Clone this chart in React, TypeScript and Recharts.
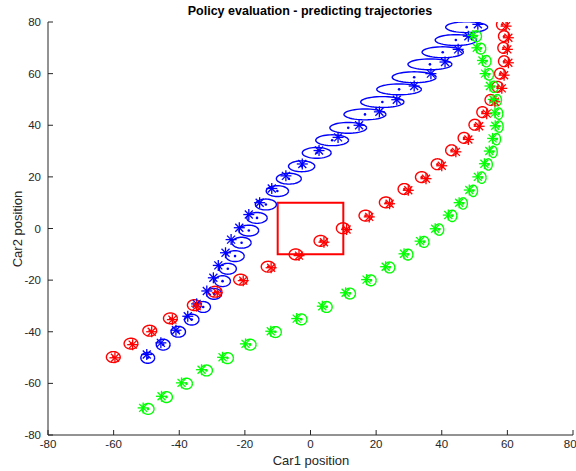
import React from 'react'
import { ComposedChart, Scatter, XAxis, YAxis, ReferenceArea } from 'recharts'

const axisTicks = [-80, -60, -40, -20, 0, 20, 40, 60, 80]

// observed positions (asterisks)
const blueStarX = [-49.9, -45.6, -41, -37.4, -34.7, -31.6, -29.6, -28.1, -25.9, -24.2, -21.7, -18.8, -15.5, -11.8, -7.5, -2.5, 2.6, 8.4, 14.8, 21, 26.3, 31.6, 36.7, 41, 45, 48.1, 51]
const blueStarY = [-48.8, -44.3, -39.4, -34, -29.2, -24.2, -19.1, -14.3, -9.4, -4.3, 0.3, 5.4, 10, 15.5, 20.4, 25, 30.2, 35.3, 40, 45.2, 49.9, 55.2, 60, 64.5, 69.4, 74.5, 79.1]
// predicted means (dots) and spread (ellipses)
const blueMeanX = [-49.6, -44.9, -40.3, -36.2, -32.7, -29.4, -26.8, -25.2, -23, -21, -18.8, -16.3, -13.6, -10.1, -6.6, -2.7, 1.9, 6.6, 11.5, 16.6, 21.9, 27, 31.6, 36.4, 40.3, 44.3, 47.6]
const blueMeanY = [-50.1, -45, -40, -35.3, -30.4, -25.3, -20.4, -15.6, -10.7, -5.5, -0.8, 4.1, 9.3, 14.5, 19.3, 24.1, 29.3, 34.2, 39, 44.2, 49, 53.9, 58.6, 63.6, 68.3, 73, 78]
const blueSdX = [2.1, 2.1, 2.2, 2.2, 2.2, 2.3, 2.4, 2.6, 2.8, 2.9, 3, 3.1, 3.2, 3.4, 3.8, 4, 4.4, 5, 5.6, 6.4, 6.6, 6.8, 6.7, 6.7, 6.3, 6.3, 6.4]
const blueSdY = [2.1, 2.1, 2.1, 2.1, 2.1, 2.1, 2.1, 2.1, 2.1, 2.1, 2.1, 2.1, 2.1, 2.1, 2.1, 2.1, 2.1, 2.1, 2.1, 2.1, 2.1, 2.1, 2.1, 2.1, 2.1, 2.1, 2.1]

const redStarX = [-59.6, -54.2, -48.4, -42.1, -34.7, -28.4, -20.5, -12, -3.5, 4.1, 11, 17.9, 24.1, 29.8, 35.2, 40, 44.3, 48.1, 51.4, 53.7, 56.2, 58.3, 59, 60.3, 60, 60.3, 59.6]
const redStarY = [-50.1, -45, -40, -35.3, -30.1, -24.9, -20.2, -15.2, -10.5, -5.3, -0.4, 4.5, 9.6, 14.8, 19.3, 24.3, 29.7, 34.5, 39.6, 44.5, 49.1, 54.3, 59.4, 64.2, 69.4, 73.9, 78.4]
const redMeanX = [-60.1, -54.7, -49, -42.7, -35.4, -29.1, -21.3, -12.9, -4.5, 3.1, 9.9, 16.8, 23, 28.6, 33.9, 38.7, 43, 46.8, 50.1, 52.4, 54.9, 57, 57.8, 59, 58.8, 59, 58.4]
const redMeanY = [-49.8, -44.6, -39.6, -34.8, -29.7, -24.5, -19.8, -14.8, -10, -4.8, 0.1, 5, 10.1, 15.3, 19.9, 24.9, 30.3, 35.1, 40.2, 45.1, 49.8, 54.9, 60, 64.8, 70, 74.5, 79]
const redSdX = [2.1, 2.1, 2.1, 2.1, 2.1, 2.1, 2.1, 2.1, 2, 2, 2, 2, 2, 1.9, 1.9, 1.9, 1.8, 1.8, 1.8, 1.7, 1.7, 1.7, 1.7, 1.7, 1.7, 1.7, 1.7]
const redSdY = [2.1, 2.1, 2.1, 2.1, 2.1, 2.1, 2.1, 2.1, 2.1, 2.1, 2.1, 2.1, 2.1, 2.1, 2.1, 2.1, 2.1, 2.1, 2.1, 2.1, 2.1, 2.1, 2.1, 2.1, 2.1, 2.1, 2.1]

const greenStarX = [-51, -45.4, -39.3, -33.2, -26.8, -19.8, -12.1, -4.2, 3.6, 10.7, 17.1, 22.9, 28.5, 33.4, 38, 42, 45.3, 48.4, 51, 53, 54.5, 55.5, 56.3, 56.2, 55.7, 54.7, 53.2, 52.4, 50.7, 49.5]
const greenStarY = [-69.5, -65, -59.8, -54.7, -49.9, -44.7, -39.8, -34.9, -30.1, -24.9, -19.8, -14.8, -9.8, -4.9, -0.1, 5.2, 10, 14.9, 20, 25.1, 30, 34.9, 39.8, 44.8, 50, 55.2, 60, 65.1, 70, 74.8]
const greenMeanX = [-49.5, -43.9, -37.8, -31.7, -25.3, -18.4, -10.7, -2.8, 4.9, 12, 18.4, 24.1, 29.7, 34.6, 39.2, 43.2, 46.5, 49.6, 52.2, 54.2, 55.7, 56.7, 57.5, 57.4, 56.9, 55.9, 54.4, 53.6, 51.9, 50.6]
const greenMeanY = [-69.9, -65.3, -60.1, -55, -50.2, -45, -40.1, -35.2, -30.4, -25.2, -20.1, -15.1, -10.1, -5.2, -0.4, 4.9, 9.7, 14.6, 19.7, 24.8, 29.7, 34.6, 39.5, 44.5, 49.7, 54.9, 59.7, 64.8, 69.7, 74.5]
const greenSdX = [1.8, 1.8, 1.8, 1.8, 1.8, 1.8, 1.8, 1.7, 1.7, 1.7, 1.6, 1.6, 1.5, 1.5, 1.4, 1.4, 1.3, 1.3, 1.3, 1.2, 1.2, 1.2, 1.2, 1.2, 1.3, 1.3, 1.4, 1.4, 1.5, 1.5]
const greenSdY = [2.1, 2.1, 2.1, 2.1, 2.1, 2.1, 2.1, 2.1, 2.1, 2.1, 2.1, 2.1, 2.1, 2.1, 2.2, 2.2, 2.2, 2.2, 2.2, 2.2, 2.2, 2.2, 2.2, 2.2, 2.2, 2.2, 2.2, 2.2, 2.1, 2.1]

const FONT = '"Liberation Sans", Arial, Helvetica, sans-serif'
const AXIS = '#262626'

const zip = (xs: number[], ys: number[]) => xs.map((x, i) => ({ x, y: ys[i] }))

// outline of one covariance ellipse, in data units
const outline = (cx: number, cy: number, rx: number, ry: number) => {
  const pts = []
  for (let i = 0; i <= 48; i++) {
    const t = (Math.PI * 2 * i) / 48
    pts.push({ x: cx + rx * Math.cos(t), y: cy + ry * Math.sin(t) })
  }
  return pts
}

const Nothing = () => <g />

const makeStar = (color: string) => (props: any) => {
  const { cx, cy } = props
  const r = 5.5
  const d = 4
  return (
    <g stroke={color} strokeWidth={1.3}>
      <line x1={cx - r} y1={cy} x2={cx + r} y2={cy} />
      <line x1={cx} y1={cy - r} x2={cx} y2={cy + r} />
      <line x1={cx - d} y1={cy - d} x2={cx + d} y2={cy + d} />
      <line x1={cx - d} y1={cy + d} x2={cx + d} y2={cy - d} />
    </g>
  )
}

const makeDot = (color: string) => (props: any) => <circle cx={props.cx} cy={props.cy} r={1.3} fill={color} />

const series = [
  { name: 'blue', color: '#0000ff', sx: blueStarX, sy: blueStarY, mx: blueMeanX, my: blueMeanY, rx: blueSdX, ry: blueSdY },
  { name: 'red', color: '#ff0000', sx: redStarX, sy: redStarY, mx: redMeanX, my: redMeanY, rx: redSdX, ry: redSdY },
  { name: 'green', color: '#00ff00', sx: greenStarX, sy: greenStarY, mx: greenMeanX, my: greenMeanY, rx: greenSdX, ry: greenSdY },
]

export default function App() {
  return (
    <div style={{ position: 'absolute', left: 0, top: 0, width: 576, height: 471, background: '#fff', fontFamily: FONT }}>
      <div style={{ position: 'absolute', left: 0, width: 620, top: 4, textAlign: 'center', fontSize: 12.5, fontWeight: 'bold', color: '#000' }}>
        Policy evaluation - predicting trajectories
      </div>
      <div style={{ position: 'absolute', left: 0, width: 622, top: 453, textAlign: 'center', fontSize: 13, color: AXIS }}>
        Car1 position
      </div>
      <div style={{ position: 'absolute', left: 17, top: 229, width: 0, height: 0 }}>
        <div style={{ position: 'absolute', transform: 'translate(-50%, -50%) rotate(-90deg)', whiteSpace: 'nowrap', fontSize: 13, color: AXIS }}>
          Car2 position
        </div>
      </div>
      <ComposedChart width={576} height={471} margin={{ top: 22, right: 3, left: 0, bottom: 0 }}>
        <XAxis
          type="number"
          dataKey="x"
          domain={[-80, 80]}
          ticks={axisTicks}
          allowDataOverflow
          height={36}
          stroke={AXIS}
          tickSize={-5}
          tickMargin={10}
          tick={{ fontSize: 11.5, fill: AXIS, fontFamily: FONT }}
        />
        <YAxis
          type="number"
          dataKey="y"
          domain={[-80, 80]}
          ticks={axisTicks}
          allowDataOverflow
          width={48}
          stroke={AXIS}
          tickSize={-5}
          tickMargin={12}
          tick={{ fontSize: 11.5, fill: AXIS, fontFamily: FONT }}
        />
        <ReferenceArea x1={-10} x2={10} y1={-10} y2={10} fill="none" stroke="#ff0000" strokeWidth={2} ifOverflow="visible" />
        {series.map((s) =>
          s.mx.map((cx, i) => (
            <Scatter
              key={`${s.name}-e${i}`}
              data={outline(cx, s.my[i], s.rx[i], s.ry[i])}
              line={{ stroke: s.color, strokeWidth: 1.4 }}
              shape={Nothing}
              isAnimationActive={false}
            />
          ))
        )}
        {series.map((s) => (
          <Scatter key={`${s.name}-m`} data={zip(s.mx, s.my)} shape={makeDot(s.color)} isAnimationActive={false} />
        ))}
        {series.map((s) => (
          <Scatter key={`${s.name}-s`} data={zip(s.sx, s.sy)} shape={makeStar(s.color)} isAnimationActive={false} />
        ))}
      </ComposedChart>
    </div>
  )
}
